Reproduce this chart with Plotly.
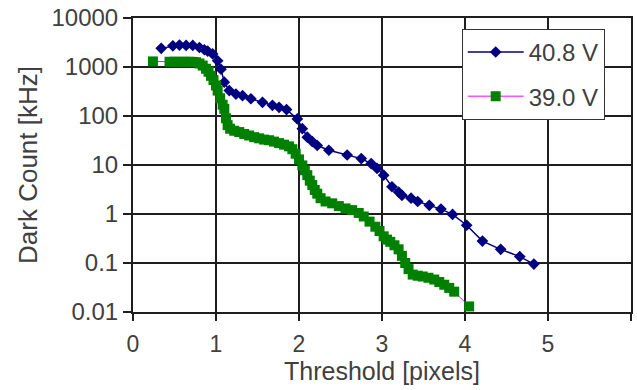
import plotly.graph_objects as go

# Data
x_408 = [0.34, 0.48, 0.56, 0.64, 0.72, 0.80, 0.86, 0.90, 0.96, 1.02, 1.06, 1.10, 1.16, 1.24,
         1.32, 1.42, 1.56, 1.68, 1.76, 1.85, 1.98, 2.04, 2.10, 2.16, 2.22, 2.36, 2.58, 2.75,
         2.87, 2.94, 3.02, 3.12, 3.20, 3.24, 3.35, 3.43, 3.57, 3.71, 3.85, 4.02, 4.21, 4.43,
         4.66, 4.83]
y_408 = [2400, 2700, 2800, 2750, 2750, 2500, 2250, 2100, 1850, 1340, 900, 490, 330, 280,
         260, 225, 190, 165, 150, 135, 87, 55, 37, 30, 25, 20, 16, 13.5,
         10.7, 8.5, 6.2, 3.6, 2.8, 2.4, 2.1, 1.8, 1.5, 1.26, 0.98, 0.59, 0.28, 0.19,
         0.135, 0.095]

x_390 = [0.24, 0.44, 0.50, 0.56, 0.62, 0.68, 0.72, 0.76, 0.80, 0.84, 0.88, 0.91, 0.94, 0.97,
         1.00, 1.02, 1.05, 1.08, 1.10, 1.12, 1.14, 1.17, 1.22, 1.28, 1.34, 1.40, 1.46, 1.52,
         1.58, 1.64, 1.70, 1.76, 1.82, 1.88, 1.92, 1.96, 2.00, 2.04, 2.07, 2.10, 2.13, 2.16,
         2.19, 2.22, 2.26, 2.32, 2.40, 2.48, 2.56, 2.64, 2.72, 2.78, 2.85, 2.92, 2.97, 3.02,
         3.06, 3.10, 3.15, 3.20, 3.24, 3.28, 3.32, 3.37, 3.43, 3.49, 3.56, 3.63, 3.69, 3.75,
         3.81, 3.87, 4.05]
y_390 = [1300, 1280, 1280, 1280, 1280, 1280, 1270, 1250, 1180, 1070, 920, 800, 660, 540,
         420, 330, 230, 170, 140, 90, 65, 55, 50, 47, 43, 40, 37, 35,
         33, 32, 30, 28, 26, 24, 21, 17, 13, 9.8, 7.8, 6.2, 4.8, 3.9,
         3.1, 2.6, 2.1, 1.8, 1.65, 1.45, 1.3, 1.2, 1.05, 0.89, 0.7, 0.55, 0.45, 0.35,
         0.30, 0.27, 0.23, 0.19, 0.14, 0.10, 0.075, 0.058, 0.055, 0.053, 0.050, 0.046, 0.041, 0.036,
         0.031, 0.026, 0.013]

series_names = ["40.8 V", "39.0 V"]
y_tickvals = [0.01, 0.1, 1, 10, 100, 1000, 10000]
y_ticktext = ["0.01", "0.1", "1", "10", "100", "1000", "10000"]
x_tickvals = [0, 1, 2, 3, 4, 5, 6]

FONT = "Liberation Sans, Arial, sans-serif"
TXT = "#404040"
GRID = "#1e1e1e"

fig = go.Figure()
fig.add_trace(go.Scatter(
    x=x_408, y=y_408, name=series_names[0], mode="lines+markers",
    line=dict(color="#000080", width=1.5),
    marker=dict(symbol="diamond", size=9, color="#000080"),
    legendgroup="a",
))
fig.add_trace(go.Scatter(
    x=x_390, y=y_390, name=series_names[1], mode="lines+markers",
    line=dict(color="#ff00ff", width=1),
    marker=dict(symbol="square", size=10, color="#008000"),
    legendgroup="b",
))

fig.update_layout(
    width=637, height=390,
    margin=dict(l=133, r=4, t=17, b=78),
    paper_bgcolor="white", plot_bgcolor="white",
    font=dict(family=FONT, color=TXT, size=23),
    legend=dict(
        x=0.66, y=0.963, xanchor="left", yanchor="top",
        bgcolor="white", bordercolor="#333333", borderwidth=1,
        font=dict(family=FONT, size=24, color=TXT),
        tracegroupgap=10, traceorder="grouped", itemwidth=56,
    ),
    xaxis=dict(
        range=[0, 6], tickvals=x_tickvals, ticks="outside", ticklen=7,
        tickcolor=GRID, tickwidth=1.5, ticklabelstandoff=3,
        showgrid=True, gridcolor=GRID, gridwidth=1.5,
        showline=True, linecolor=GRID, linewidth=2, mirror=True,
        zeroline=False,
        tickfont=dict(family=FONT, size=23, color=TXT),
        title=dict(text="Threshold [pixels]", font=dict(family=FONT, size=25, color=TXT), standoff=0),
    ),
    yaxis=dict(
        type="log", range=[-2, 4], tickvals=y_tickvals, ticktext=y_ticktext,
        ticks="outside", ticklen=8, tickcolor=GRID, tickwidth=1.5,
        showgrid=True, gridcolor=GRID, gridwidth=1.5,
        showline=True, linecolor=GRID, linewidth=2, mirror=True,
        zeroline=False,
        tickfont=dict(family=FONT, size=24, color=TXT),
        title=dict(text="Dark Count [kHz]", font=dict(family=FONT, size=26, color=TXT), standoff=6),
    ),
    showlegend=True,
)

fig.write_html("out.html")
